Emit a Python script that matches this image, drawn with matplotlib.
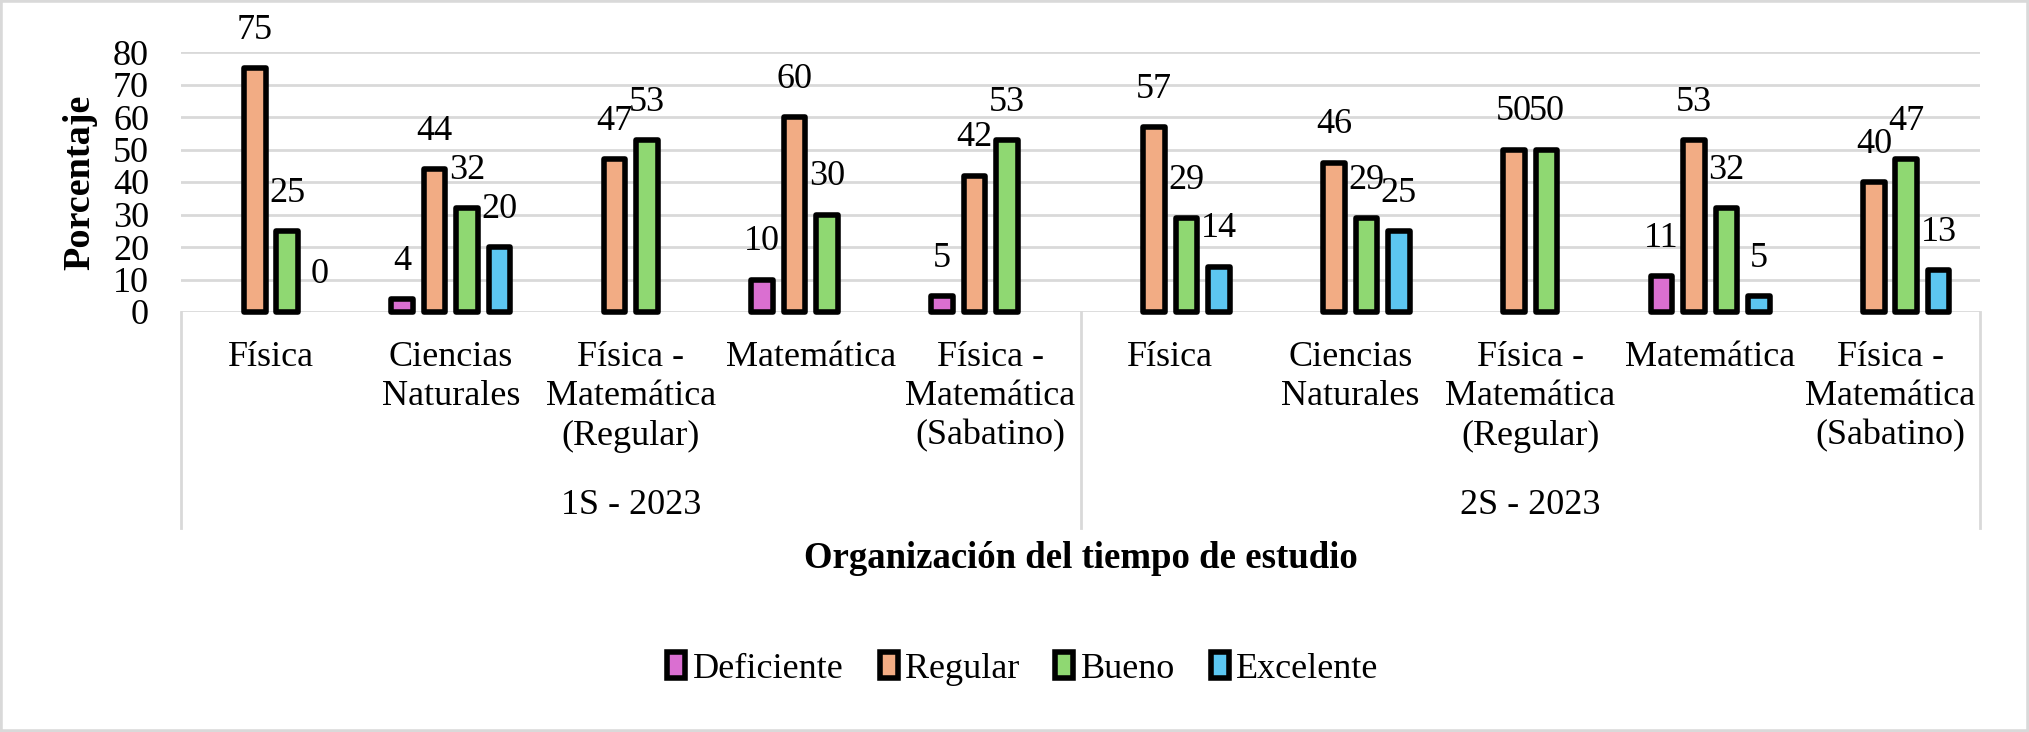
#
#  Organización del tiempo de estudio por carrera y semestre
#
################################################################

import numpy as np
import matplotlib.pylab as plt
from matplotlib.patches import Rectangle
from matplotlib.transforms import blended_transform_factory

nan = np.nan

carreras = ["Física", "Ciencias\nNaturales", "Física -\nMatemática\n(Regular)",
            "Matemática", "Física -\nMatemática\n(Sabatino)"]
semestres = ["1S - 2023", "2S - 2023"]
niveles = ["Deficiente", "Regular", "Bueno", "Excelente"]
colores = ["#DA6FD1", "#F2AC84", "#8FD872", "#5CC6F1"]

#  1S-2023 (5 carreras), luego 2S-2023 (5 carreras)
deficiente = [nan, 4, nan, 10, 5,    nan, nan, nan, 11, nan]
regular    = [75, 44, 47, 60, 42,    57, 46, 50, 53, 40]
bueno      = [25, 32, 53, 30, 53,    29, 29, 50, 32, 47]
excelente  = [0, 20, nan, nan, nan,  14, 25, nan, 5, 13]
series = [deficiente, regular, bueno, excelente]

plt.rcParams['font.family'] = ['Liberation Serif', 'DejaVu Serif']
fs = 26
W, H = 2029, 732

fig = plt.figure(figsize=(W/100, H/100), dpi=100)
ax = fig.add_axes([181/W, 1-312/H, (1980-181)/W, (312-52)/H])

n = len(carreras)*len(semestres)
xc = np.arange(n)
slot = 0.18
width = 0.12
elw = 4.0

for j, vals in enumerate(series):
    h = np.array(vals, dtype=float)
    x = xc + (j-1.5)*slot
    m = ~np.isnan(h) & (np.nan_to_num(h) > 0)
    ax.bar(x[m], h[m], width, color=colores[j], edgecolor='k', linewidth=elw,
           zorder=3, clip_on=False, joinstyle='round')
    for xi, v in zip(x, h):
        if not np.isnan(v):
            ax.annotate(f"{v:g}", (xi, v), xytext=(0, 21), textcoords='offset points',
                        ha='center', va='baseline', fontsize=fs, zorder=4)

ax.set_xlim(-0.5, n-0.5)
ax.set_ylim(0, 80)
ax.set_yticks(np.arange(0, 81, 10))
ax.set_xticks([])
ax.tick_params(axis='y', length=0, pad=23, labelsize=fs)
ax.yaxis.grid(True, color='#d9d9d9', linewidth=2)
ax.set_axisbelow(True)
for s in ax.spines.values():
    s.set_visible(False)

#  category axis: labels, group labels, separators
tfig = blended_transform_factory(ax.transData, fig.transFigure)
tax = blended_transform_factory(ax.transData, ax.transAxes)
for i in range(n):
    ax.text(i, 1-341/H, carreras[i % len(carreras)], transform=tfig, ha='center',
            va='top', fontsize=fs, linespacing=1.25, multialignment='center')
for k, sem in enumerate(semestres):
    xm = k*len(carreras) + (len(carreras)-1)/2
    ax.text(xm, 1-506/H, sem, transform=tfig, ha='center', va='center', fontsize=fs)
for k in range(len(semestres)+1):
    xv = k*len(carreras) - 0.5
    ax.plot([xv, xv], [0, -216/260], transform=tax, color='#d9d9d9', lw=2,
            clip_on=False)

ax.text(0.5, 1-559/H, "Organización del tiempo de estudio", transform=
        blended_transform_factory(ax.transAxes, fig.transFigure),
        ha='center', va='center', fontsize=fs+0.5, fontweight='bold')
fig.text(80/W, 1-182/H, "Porcentaje", rotation=90, ha='center', va='center',
         fontsize=fs+1.5, fontweight='bold')

#  legend
handles = [Rectangle((0, 0), 1, 1, facecolor=c, edgecolor='k', linewidth=elw,
                     joinstyle='round') for c in colores]
fig.legend(handles, niveles, loc='center', bbox_to_anchor=(1023/W, 1-669/H), ncol=4,
           frameon=False, fontsize=fs, handlelength=0.5, handleheight=0.7,
           handletextpad=0.2, columnspacing=1.0)

#  outer border
fig.add_artist(Rectangle((0, 0), 1, 1, transform=fig.transFigure, fill=False,
                         edgecolor='#d9d9d9', linewidth=4))

fig.savefig("out.png", dpi=100)
